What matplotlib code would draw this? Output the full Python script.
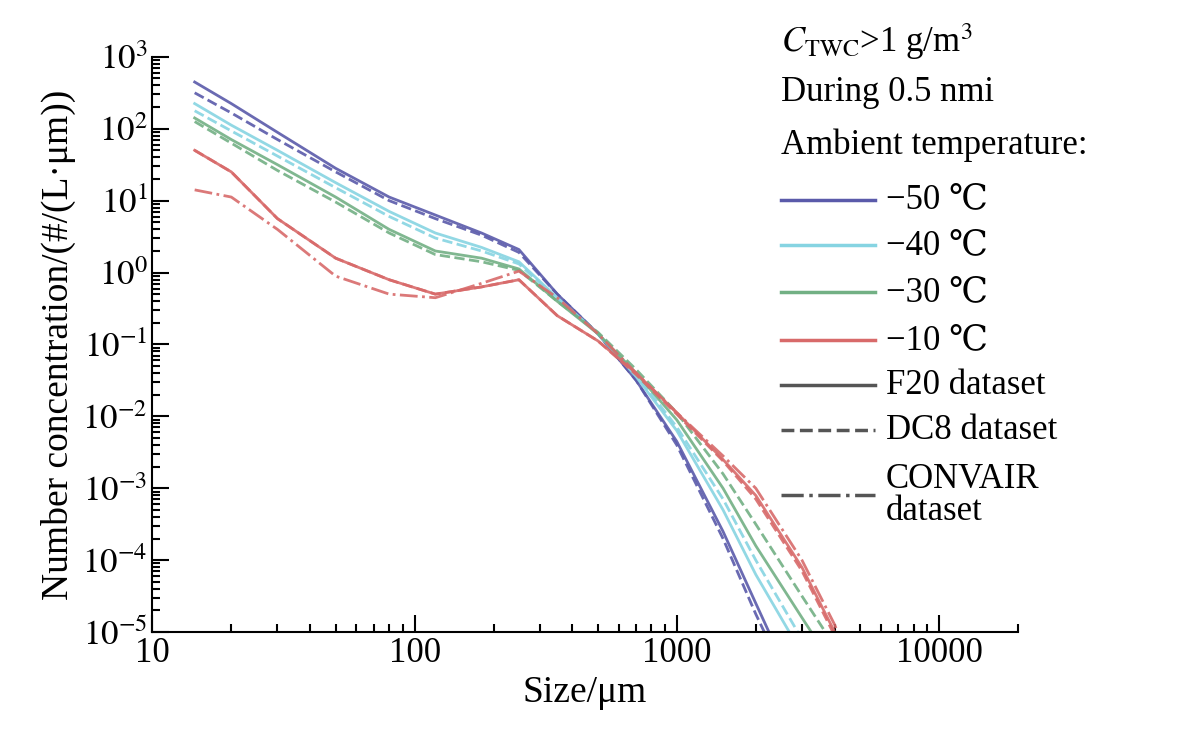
import numpy as np
import matplotlib.pyplot as plt
from matplotlib.lines import Line2D

plt.rcParams['font.family'] = ['Liberation Serif', 'DejaVu Serif']
plt.rcParams['mathtext.fontset'] = 'stix'

# particle size (um) and log10 of number concentration
size = [14.5, 20, 30, 50, 80, 120, 180, 250, 350, 500, 700, 1000, 1500, 2000, 3000, 4000, 5000]

m50_f20 = [2.65, 2.35, 1.95, 1.45, 1.05, 0.80, 0.55, 0.32, -0.30, -0.85, -1.50, -2.35, -3.60, -4.60, -6.0, -7.0, -8.0]
m50_dc8 = [2.50, 2.22, 1.85, 1.40, 1.00, 0.75, 0.52, 0.28, -0.30, -0.85, -1.50, -2.40, -3.70, -4.75, -6.1, -7.0, -8.0]
m40_f20 = [2.35, 2.05, 1.70, 1.25, 0.85, 0.55, 0.35, 0.15, -0.35, -0.85, -1.45, -2.20, -3.30, -4.20, -5.30, -6.2, -7.0]
m40_dc8 = [2.25, 1.97, 1.62, 1.18, 0.78, 0.48, 0.30, 0.12, -0.37, -0.85, -1.42, -2.15, -3.15, -4.00, -5.10, -6.0, -7.0]
m30_f20 = [2.15, 1.85, 1.50, 1.05, 0.60, 0.30, 0.20, 0.05, -0.40, -0.85, -1.40, -2.05, -3.00, -3.80, -4.80, -5.5, -6.5]
m30_dc8 = [2.10, 1.80, 1.42, 0.98, 0.55, 0.25, 0.15, 0.03, -0.40, -0.83, -1.35, -1.95, -2.80, -3.50, -4.50, -5.2, -6.0]
m10_f20 = [1.70, 1.40, 0.75, 0.20, -0.10, -0.30, -0.20, -0.10, -0.60, -0.95, -1.40, -1.95, -2.60, -3.10, -4.10, -5.00, -5.8]
m10_dc8 = [1.70, 1.40, 0.75, 0.20, -0.10, -0.30, -0.20, -0.10, -0.60, -0.95, -1.42, -1.97, -2.62, -3.15, -4.15, -5.05, -5.9]
m10_cv = [1.15, 1.05, 0.60, -0.05, -0.30, -0.35, -0.15, 0.02, -0.35, -0.85, -1.40, -1.95, -2.55, -3.00, -4.00, -4.90, -5.8]

blue = '#5a5aaa'
cyan = '#86d4e2'
green = '#72b084'
red = '#d86a6a'

series = [
    (m50_f20, blue, '-'), (m50_dc8, blue, '--'),
    (m40_f20, cyan, '-'), (m40_dc8, cyan, '--'),
    (m30_f20, green, '-'), (m30_dc8, green, '--'),
    (m10_f20, red, '-'), (m10_dc8, red, '--'), (m10_cv, red, '-.'),
]

fig = plt.figure(figsize=(11.81, 7.48), dpi=100)
ax = fig.add_axes([0.129, 0.155, 0.733, 0.769])

x = np.array(size)
for vals, c, ls in series:
    ax.plot(x, 10 ** np.array(vals), color=c, ls=ls, lw=2, alpha=0.9)

ax.set_xscale('log')
ax.set_yscale('log')
ax.set_xlim(10, 20000)
ax.set_ylim(1e-5, 1e3)
ax.set_xticks([10, 100, 1000, 10000])
ax.set_xticklabels(['10', '100', '1000', '10000'])
ax.set_yticks([10.0 ** k for k in range(-5, 4)])
ax.set_yticklabels([r'$10^{%d}$' % k for k in range(-5, 4)])
ax.tick_params(which='both', direction='in', labelsize=25, width=1.5)
ax.tick_params(which='major', length=12)
ax.tick_params(which='minor', length=6)
for s in ['top', 'right']:
    ax.spines[s].set_visible(False)
for s in ['left', 'bottom']:
    ax.spines[s].set_linewidth(1.5)
ax.set_xlabel('Size/\u03bcm', fontsize=27)
ax.set_ylabel('Number concentration/(#/(L\u00b7\u03bcm))', fontsize=27)

# legend drawn at right
fs = 25
fig.text(0.661, 0.945, r'$C_{\mathrm{TWC}}$>1 g/m$^3$', fontsize=fs, va='center')
fig.text(0.661, 0.877, 'During 0.5 nmi', fontsize=fs, va='center')
fig.text(0.661, 0.806, 'Ambient temperature:', fontsize=fs, va='center')
entries = [
    (blue, '-', '\u221250 \u2103', 0.733),
    (cyan, '-', '\u221240 \u2103', 0.672),
    (green, '-', '\u221230 \u2103', 0.609),
    (red, '-', '\u221210 \u2103', 0.545),
    ('#555555', '-', 'F20 dataset', 0.485),
    ('#555555', '--', 'DC8 dataset', 0.425),
    ('#555555', '-.', 'CONVAIR\ndataset', 0.338),
]
for c, ls, lab, yy in entries:
    fig.add_artist(Line2D([0.661, 0.741], [yy, yy], color=c, ls=ls, lw=2.5,
                          transform=fig.transFigure))
    fig.text(0.75, yy, lab, fontsize=fs, va='center', linespacing=0.95)

fig.savefig('out.png', dpi=100)
